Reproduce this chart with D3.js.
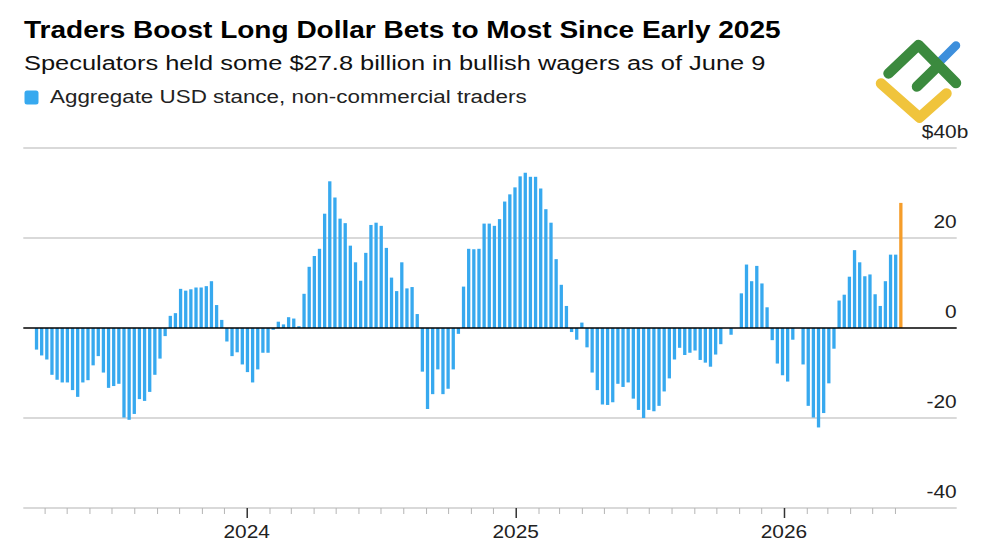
<!DOCTYPE html>
<html><head><meta charset="utf-8">
<script src="https://cdn.jsdelivr.net/npm/d3@7"></script>
<style>
body{margin:0;background:#fff;}
svg{display:block;font-family:"Liberation Sans",Arial,Helvetica,sans-serif;}
</style></head><body>
<svg id="chart" width="1000" height="545"></svg>
<script>
// ---- data ----
const title = "Traders Boost Long Dollar Bets to Most Since Early 2025";
const subtitle = "Speculators held some $27.8 billion in bullish wagers as of June 9";
const legendLabel = "Aggregate USD stance, non-commercial traders";
const firstWeek = "2023-03-21";           // weekly COT reports (Tuesdays)
const values = [
 -4.8,-6.1,-7.0,-10.4,-11.5,-12.1,-12.1,-13.8,-15.3,-12.1,
 -11.6,-8.3,-6.25,-9.9,-13.3,-12.9,-12.4,-19.9,-20.4,-19.1,
 -15.8,-16.2,-14.2,-10.4,-6.8,-1.8,2.7,3.3,8.7,8.3,
 8.6,9.0,9.0,9.3,10.4,5.1,1.8,-3.0,-6.25,-5.4,
 -8.1,-9.8,-12.1,-9.2,-5.5,-5.5,-0.4,1.4,0.8,2.4,
 2.1,0.4,7.6,13.6,16.0,17.6,25.4,32.6,29.0,24.3,
 23.3,18.3,14.6,10.5,16.7,22.9,23.4,22.7,17.8,11.2,
 8.2,14.6,8.8,9.1,3.1,-9.7,-18.0,-14.7,-9.2,-14.7,
 -13.5,-9.2,-1.3,9.2,17.6,17.5,17.6,23.2,23.2,22.7,
 24.2,28.1,29.7,31.25,33.7,34.5,33.6,33.6,31.0,26.4,
 23.4,15.3,9.6,4.9,-0.9,-2.6,1.2,-4.3,-9.9,-13.8,
 -17.0,-17.1,-16.5,-12.4,-13.1,-12.1,-15.7,-18.2,-20.0,-18.2,
 -18.5,-17.3,-14.1,-11.2,-7.0,-4.4,-6.0,-5.5,-5.0,-7.1,
 -7.7,-8.6,-5.9,-3.6,0,-1.5,0,7.7,14.1,10.4,
 13.8,9.9,4.6,-2.7,-7.9,-10.5,-11.9,-2.6,0,-8.1,
 -17.3,-19.9,-22.1,-18.9,-12.3,-4.6,6.1,7.4,11.4,17.3,
 14.6,11.5,11.9,7.5,4.9,10.4,16.3,16.3,27.8
];
const yTicks = [-40, -20, 0, 20, 40];
const yTickLabels = ["-40", "-20", "0", "20", "$40"];
const yTopSuffix = "b";
const yearTicks = ["2024-01-01", "2025-01-01", "2026-01-01"];
const yearLabels = ["2024", "2025", "2026"];
const xDomain = ["2023-03-03", "2026-08-24"];

// ---- layout ----
const svg = d3.select("#chart");
const L = 23.3, R = 956.7, T = 148, B = 508;
const STRETCH = 1.13;
const blue = "#37a9ef", orange = "#f59d2a";

const start = new Date(firstWeek + "T00:00:00Z");
const data = values.map((v, i) => ({date: d3.utcDay.offset(start, 7 * i), value: v}));
const lastDate = data[data.length - 1].date;

const x = d3.scaleUtc().domain(xDomain.map(d => new Date(d + "T00:00:00Z"))).range([L, R]);
const y = d3.scaleLinear().domain([-40, 40]).range([B, T]);

function addText(g, str, px, py, anchor, size, weight, fill, sx) {
  return g.append("text")
    .attr("transform", `translate(${px},${py}) scale(${sx},1)`)
    .attr("text-anchor", anchor)
    .attr("font-size", size)
    .attr("font-weight", weight)
    .attr("fill", fill)
    .text(str);
}
function fitText(t, targetW, px, py) {
  const w = t.node().getComputedTextLength();
  t.attr("transform", `translate(${px},${py}) scale(${targetW / w},1)`);
}

// header
const hdr = svg.append("g");
fitText(addText(hdr, title, 0, 0, "start", 24, "bold", "#000", 1), 757, 24, 37.5);
fitText(addText(hdr, subtitle, 0, 0, "start", 21, "normal", "#111", 1), 742, 24, 70);
hdr.append("rect").attr("x", 24.5).attr("y", 90.5).attr("width", 14).attr("height", 14)
  .attr("rx", 2.5).attr("fill", blue);
fitText(addText(hdr, legendLabel, 0, 0, "start", 18.5, "normal", "#222", 1), 477, 50, 103);

// gridlines
const grid = svg.append("g");
grid.selectAll("line").data(yTicks.filter(d => d !== 0)).join("line")
  .attr("x1", L).attr("x2", R)
  .attr("y1", d => y(d)).attr("y2", d => y(d))
  .attr("stroke", "#cccccc").attr("stroke-width", 1.5);

// x axis ticks (monthly minor, yearly major)
const months = d3.utcMonth.range(x.domain()[0], d3.utcDay.offset(lastDate, 1))
  .filter(d => d.getUTCMonth() !== 0);
const years = yearTicks.map(d => new Date(d + "T00:00:00Z"));
const minorAxis = svg.append("g").attr("transform", `translate(0,${B})`)
  .call(d3.axisBottom(x).tickValues(months).tickSize(6).tickFormat(""));
minorAxis.select(".domain").remove();
minorAxis.selectAll(".tick line").attr("stroke", "#b5b5b5").attr("stroke-width", 1);
const majorAxis = svg.append("g").attr("transform", `translate(0,${B})`)
  .call(d3.axisBottom(x).tickValues(years).tickSize(10).tickFormat(""));
majorAxis.select(".domain").remove();
majorAxis.selectAll(".tick line").attr("stroke", "#333").attr("stroke-width", 1.5);
const xl = svg.append("g");
years.forEach((d, i) => addText(xl, yearLabels[i], x(d), 538, "middle", 18.5, "normal", "#222", STRETCH));

// bars
const bw = 3.3;
svg.append("g").selectAll("rect").data(data).join("rect")
  .attr("x", d => x(d.date) - bw / 2)
  .attr("width", bw)
  .attr("y", d => y(Math.max(0, d.value)))
  .attr("height", d => Math.abs(y(d.value) - y(0)))
  .attr("fill", (d, i) => i === data.length - 1 ? orange : blue);

// zero line
svg.append("line").attr("x1", L).attr("x2", R).attr("y1", y(0)).attr("y2", y(0))
  .attr("stroke", "#000").attr("stroke-width", 1.5);

// y labels
const yl = svg.append("g");
yTicks.forEach((v, i) => {
  addText(yl, yTickLabels[i], R, y(v) - 10.5, "end", 18.5, "normal", "#222", STRETCH);
  if (v === 40) addText(yl, yTopSuffix, R, y(v) - 10.5, "start", 18.5, "normal", "#222", STRETCH);
});

// logo
const logo = svg.append("g").attr("fill", "none").attr("stroke-linecap", "round").attr("stroke-linejoin", "round");
logo.append("path").attr("d", "M938.5,63 L956,45.5").attr("stroke", "#3d8fdc").attr("stroke-width", 8.5);
logo.append("path").attr("d", "M881,83.5 L919.5,117.5 L946.5,93.5").attr("stroke", "#f0c43c").attr("stroke-width", 10.5);
logo.append("path").attr("d", "M888.5,73.5 L918.5,45 L956,83").attr("stroke", "#3b8a3e").attr("stroke-width", 10.5);
logo.append("path").attr("d", "M917,86.5 L938,66").attr("stroke", "#3b8a3e").attr("stroke-width", 10.5);
</script>
</body></html>
